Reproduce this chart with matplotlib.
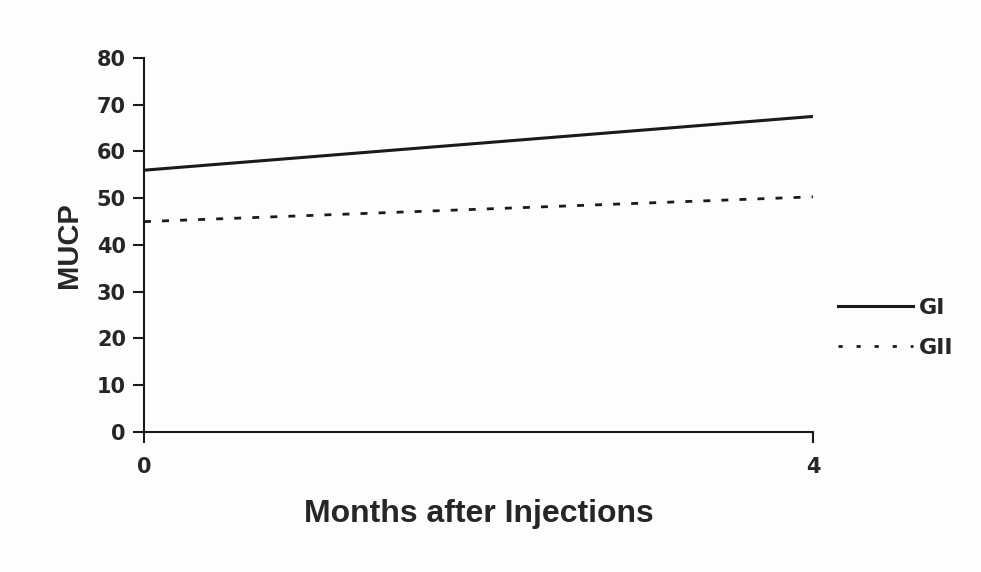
import matplotlib.pyplot as plt
from matplotlib.lines import Line2D

# MUCP at baseline and 4 months after injections
months = [0, 4]
gi_mucp = [56.0, 67.5]
gii_mucp = [45.0, 50.3]
y_ticks = [0, 10, 20, 30, 40, 50, 60, 70, 80]
x_ticks = [0, 4]

plt.rcParams['font.family'] = ['DejaVu Sans']
plt.rcParams['font.weight'] = 'bold'

ink = '#1a1a1a'
txt = '#262626'

fig = plt.figure(figsize=(9.81, 5.72), dpi=100, facecolor='#fdfdfd')
ax = fig.add_axes([0.1468, 0.2448, 0.6819, 0.6538])
ax.set_facecolor('#fdfdfd')

ax.plot(months, gi_mucp, color=ink, lw=2.2, solid_capstyle='butt')
ax.plot(months, gii_mucp, color=ink, lw=2.0, linestyle=(0, (2.5, 4)))

ax.set_xlim(0, 4)
ax.set_ylim(0, 80)
ax.set_xticks(x_ticks)
ax.set_yticks(y_ticks)
ax.tick_params(axis='both', direction='out', length=8, width=1.5, colors=ink,
               labelsize=15, pad=5)
ax.tick_params(axis='x', pad=10)
for lbl in ax.get_xticklabels() + ax.get_yticklabels():
    lbl.set_fontweight('bold')
    lbl.set_color(txt)

for side in ['top', 'right']:
    ax.spines[side].set_visible(False)
for side in ['left', 'bottom']:
    ax.spines[side].set_linewidth(1.5)
    ax.spines[side].set_color(ink)

ax.set_xlabel('Months after Injections', fontsize=23, fontweight='bold', color=txt,
              labelpad=16, family=['Liberation Sans', 'DejaVu Sans'])
ax.set_ylabel('MUCP', fontsize=21, fontweight='bold', color=txt, labelpad=10,
              family=['Liberation Sans', 'DejaVu Sans'])

handles = [Line2D([], [], color=ink, lw=2.2),
           Line2D([], [], color=ink, lw=2.0, linestyle=(0, (1.5, 5)))]
leg = fig.legend(handles, ['GI', 'GII'], loc='upper left', bbox_to_anchor=(0.845, 0.495),
                 frameon=False, fontsize=16, handlelength=3.4, handletextpad=0.25,
                 labelspacing=0.9, borderaxespad=0)
for t in leg.get_texts():
    t.set_fontweight('bold')
    t.set_color(txt)

fig.savefig('out.png', dpi=100, facecolor=fig.get_facecolor())
